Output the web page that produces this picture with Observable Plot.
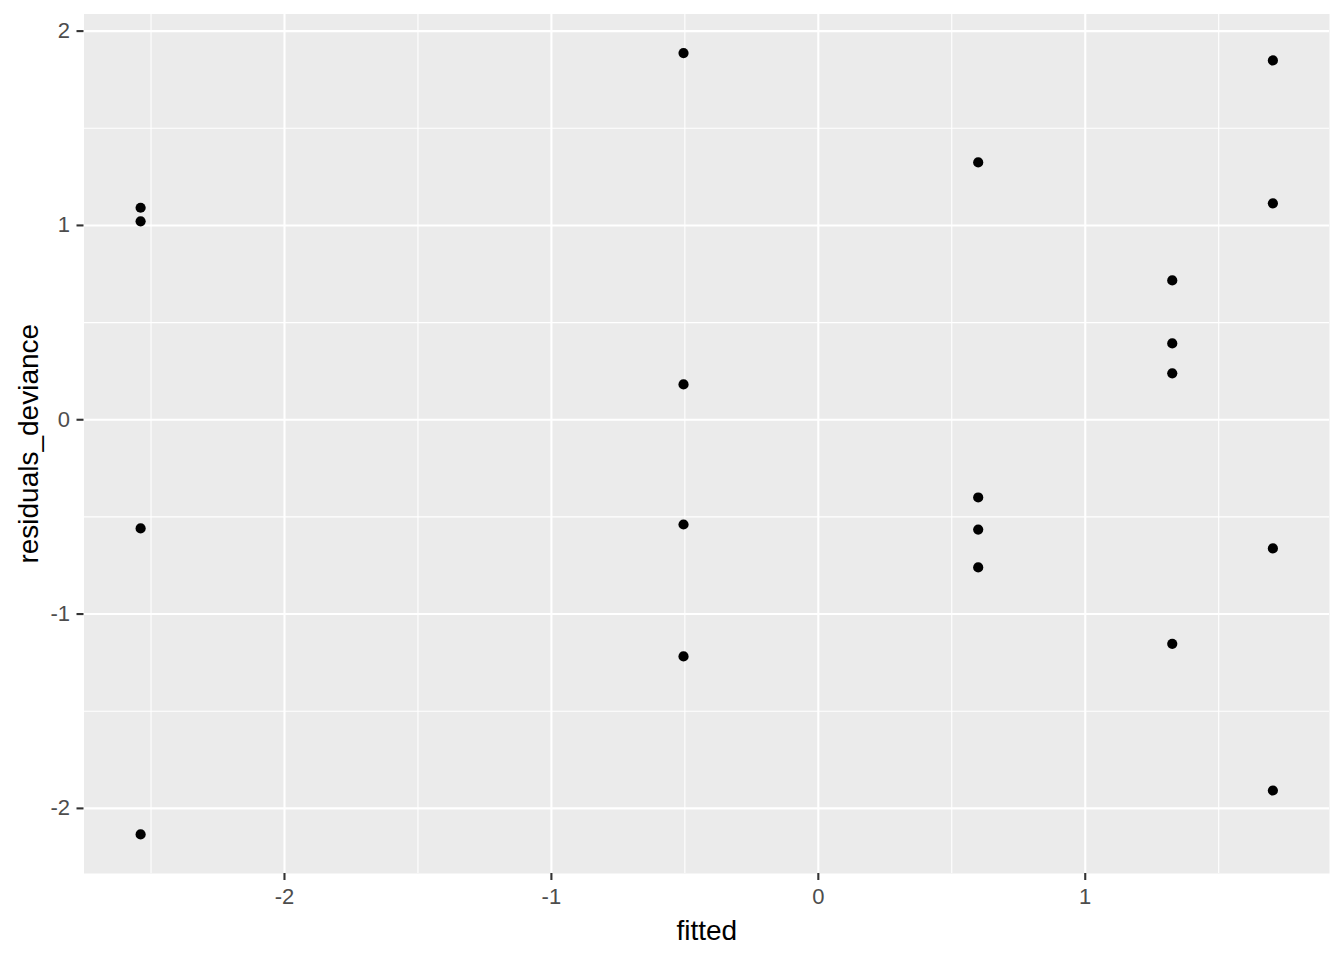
<!DOCTYPE html>
<html>
<head>
<meta charset="utf-8">
<script src="https://cdn.jsdelivr.net/npm/d3@7"></script>
<script src="https://cdn.jsdelivr.net/npm/@observablehq/plot@0.6"></script>
<style>
  html, body { margin: 0; padding: 0; background: #ffffff; }
  #chart { width: 1344px; height: 960px; }
</style>
</head>
<body>
<div id="chart"></div>
<script>
// Data
const fitted = [
  -2.539, -2.539, -2.539, -2.539,
  -0.505, -0.505, -0.505, -0.505,
   0.599,  0.599,  0.599,  0.599,
   1.326,  1.326,  1.326,  1.326,
   1.703,  1.703,  1.703,  1.703
];
const residualsDeviance = [
   1.091,  1.021, -0.559, -2.134,
   1.887,  0.182, -0.539, -1.218,
   1.324, -0.400, -0.565, -0.760,
   0.717,  0.393,  0.239, -1.153,
   1.849,  1.114, -0.662, -1.908
];
const xTicks = [-2, -1, 0, 1];
const yTicks = [-2, -1, 0, 1, 2];
const xMinor = [-2.5, -1.5, -0.5, 0.5, 1.5];
const yMinor = [-1.5, -0.5, 0.5, 1.5];
const xTitle = "fitted";
const yTitle = "residuals_deviance";

const data = fitted.map((f, i) => ({fitted: f, resid: residualsDeviance[i]}));

// ggplot-style expansion (5%)
const xr = d3.extent(fitted), yr = d3.extent(residualsDeviance);
const xPad = (xr[1] - xr[0]) * 0.05, yPad = (yr[1] - yr[0]) * 0.05;

const chart = Plot.plot({
  width: 1344,
  height: 960,
  marginLeft: 83.5,
  marginRight: 15,
  marginTop: 13.5,
  marginBottom: 87,
  style: {fontFamily: "'Liberation Sans', Arial, sans-serif", fontSize: "22px", background: "#ffffff"},
  x: {domain: [xr[0] - xPad, xr[1] + xPad]},
  y: {domain: [yr[0] - yPad, yr[1] + yPad]},
  marks: [
    Plot.frame({fill: "#EBEBEB", stroke: null}),
    Plot.ruleX(xMinor, {stroke: "#ffffff", strokeWidth: 1.1}),
    Plot.ruleY(yMinor, {stroke: "#ffffff", strokeWidth: 1.1}),
    Plot.ruleX(xTicks, {stroke: "#ffffff", strokeWidth: 2.1}),
    Plot.ruleY(yTicks, {stroke: "#ffffff", strokeWidth: 2.1}),
    Plot.dot(data, {x: "fitted", y: "resid", r: 5.1, fill: "#000000", stroke: null}),
    Plot.axisX(xTicks, {tickSize: 7, tickPadding: 8, fill: "#4D4D4D", stroke: "#333333", strokeWidth: 2.1, label: null, tickFormat: d => String(d)}),
    Plot.axisY(yTicks, {tickSize: 7, tickPadding: 7, fill: "#4D4D4D", stroke: "#333333", strokeWidth: 2.1, label: null, tickFormat: d => String(d)}),
    Plot.text([xTitle], {frameAnchor: "bottom", dy: 57.5, text: d => d, fontSize: 28, fill: "#000000", lineAnchor: "middle", textAnchor: "middle"}),
    Plot.text([yTitle], {frameAnchor: "left", dx: -55, rotate: -90, text: d => d, fontSize: 28, fill: "#000000", lineAnchor: "middle", textAnchor: "middle"})
  ]
});
document.getElementById("chart").appendChild(chart);
</script>
</body>
</html>
